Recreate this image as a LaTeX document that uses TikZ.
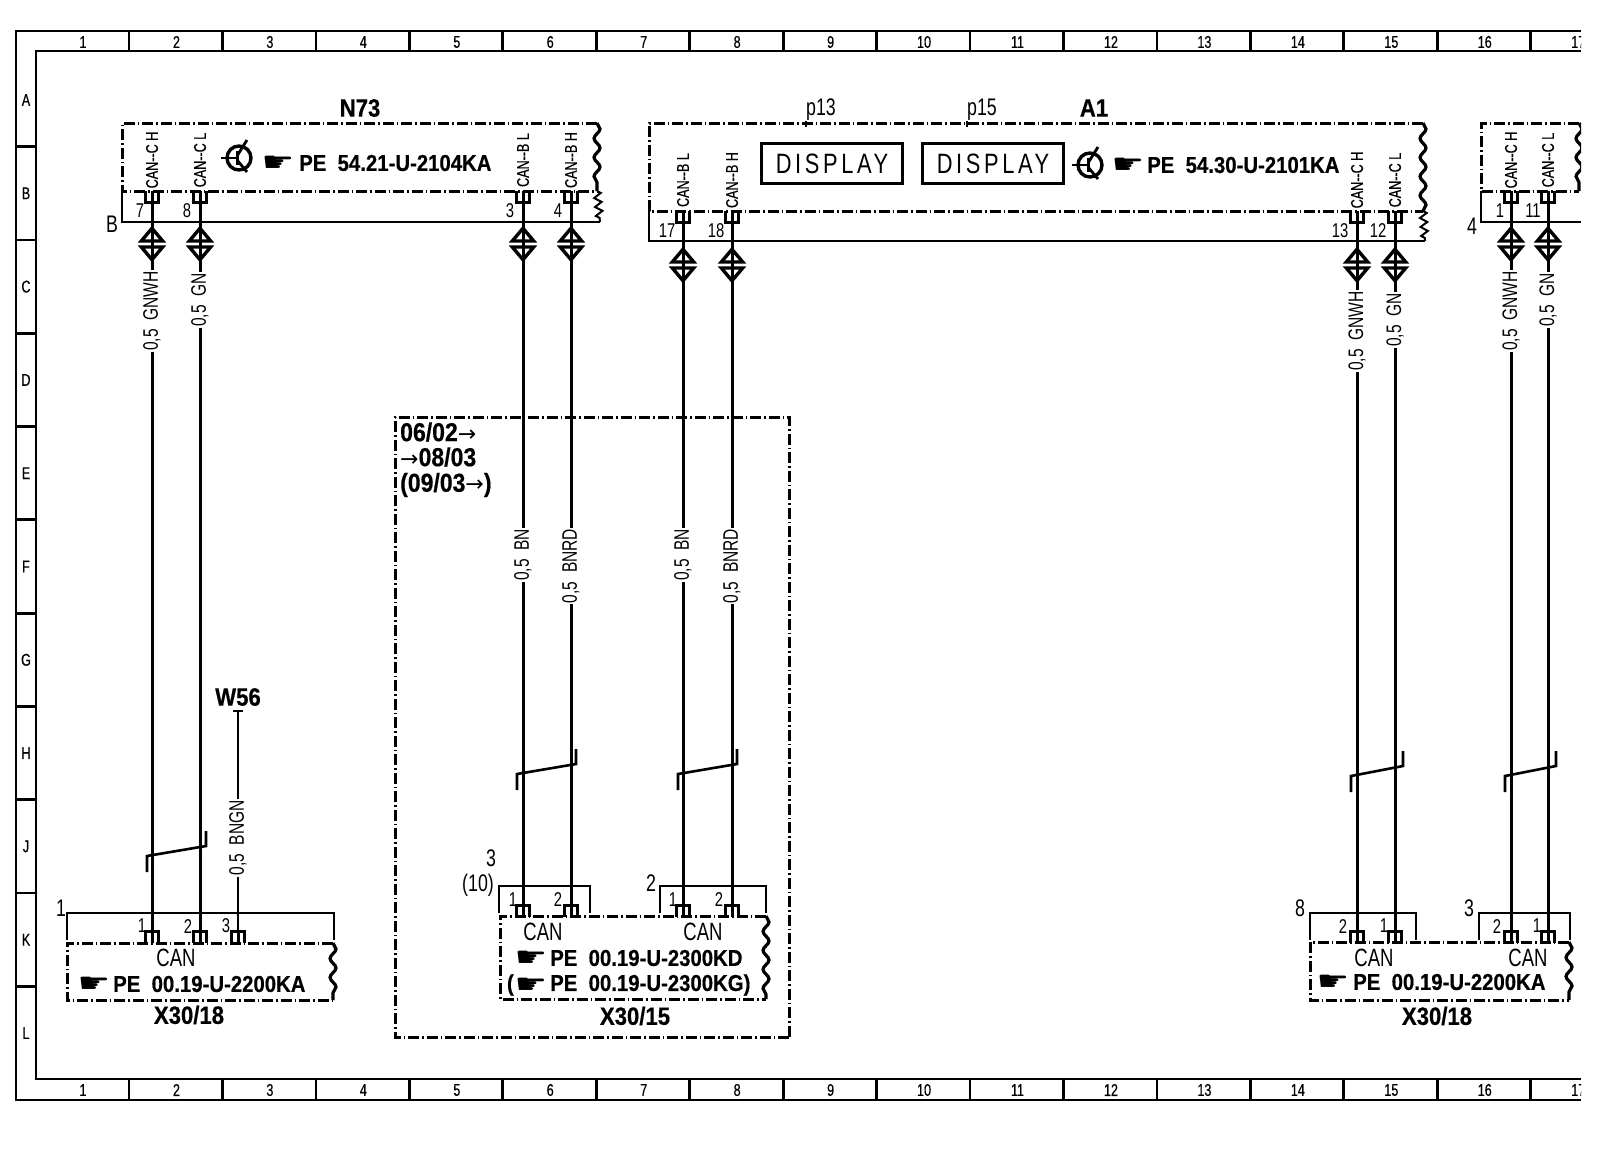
\documentclass[tikz,border=0pt]{standalone}
\usepackage{fontspec}
\usetikzlibrary{shapes.geometric, decorations.pathmorphing}
\setmainfont{Liberation Sans}
\newfontfamily\thinf[FakeStretch=0.74]{Liberation Sans}
\newfontfamily\medf[FakeStretch=0.74, FakeBold=0.6]{Liberation Sans}
\newfontfamily\boldf[FakeStretch=0.885, FakeBold=0.5]{Liberation Sans Bold}
\newfontfamily\symf{DejaVu Sans}
\newfontfamily\segf[FakeStretch=0.78, LetterSpace=13]{Liberation Sans}

\begin{document}
\begin{tikzpicture}[x=1pt, y=-1pt,
		frameline/.style={line width=2.9pt},
		tick/.style={line width=2.8pt},
		dashbox/.style={line width=3pt, dash pattern=on 11pt off 3pt on 1.5pt off 3pt},
		solidbox/.style={line width=2.8pt},
		wavy/.style={line width=3.2pt, decorate, decoration={snake, segment length=19pt, amplitude=3pt}},
		zig/.style={line width=2pt, decorate, decoration={zigzag, segment length=9pt, amplitude=3.5pt}},
		wire/.style={line width=3pt},
		thinwire/.style={line width=1.8pt},
		twist/.style={line width=2.6pt},
		cup/.style={line width=2.8pt},
		plugtri/.style={line width=3.4pt, line join=miter},
		pin/.style={inner sep=0pt, minimum width=12pt, minimum height=11pt},
		plug/.style={diamond, inner sep=0pt, minimum width=21pt, minimum height=31pt},
		grid/.style={font=\medf\fontsize{17}{17}\selectfont, inner sep=0pt},
		pinno/.style={font=\thinf\fontsize{20}{20}\selectfont, inner sep=0pt},
		sigl/.style={font=\medf\fontsize{17}{17}\selectfont, rotate=90, inner sep=0pt},
		wirel/.style={font=\thinf\fontsize{21}{21}\selectfont, rotate=90, inner sep=1pt},
		can/.style={font=\thinf\fontsize{25}{25}\selectfont, inner sep=0pt},
		ref/.style={font=\thinf\fontsize{24}{24}\selectfont, inner sep=0pt},
		pe/.style={font=\boldf\fontsize{23}{23}\selectfont, inner sep=0pt, anchor=west},
		hand/.style={font=\symf\fontsize{27}{27}\selectfont, xscale=1.35, inner sep=0pt},
		title/.style={font=\boldf\fontsize{25}{25}\selectfont, inner sep=0pt},
		datetxt/.style={font=\boldf\fontsize{26}{26}\selectfont, inner sep=0pt, anchor=west},
		segbox/.style={draw, line width=3pt, minimum width=141pt, minimum height=40pt, inner sep=0pt, font=\segf\fontsize{28}{28}\selectfont},
		trans/.style={circle, draw, line width=3.4pt, minimum size=24pt, inner sep=0pt}]

	\path[use as bounding box] (0,0) rectangle (1600,1152);
	\clip (0,0) rectangle (1581,1152);

	% frame
	\draw[frameline] (1581,31) -- (16,31) -- (16,1100) -- (1581,1100);
	\draw[frameline] (1581,51) -- (36,51) -- (36,1079) -- (1581,1079);
	\foreach \k in {1,...,17} {
		\node[grid] (top\k) at ({83+93.45*(\k-1)},42) {\k};
		\node[grid] (bot\k) at ({83+93.45*(\k-1)},1090) {\k};
	}
	\foreach \k in {0,...,15} {
		\draw[tick] ({129+93.45*\k},31) -- ({129+93.45*\k},51);
		\draw[tick] ({129+93.45*\k},1079) -- ({129+93.45*\k},1100);
	}
	\foreach \l [count=\i from 0] in {A,B,C,D,E,F,G,H,J,K,L} {
		\node[grid] (row\l) at (26,{100+93.3*\i}) {\l};
	}
	\foreach \i in {0,...,9} {
		\draw[tick] (16,{146.6+93.3*\i}) -- (36,{146.6+93.3*\i});
	}

	% N73
	\node[title] (N73) at (360,108) {N73};
	\coordinate (N73nw) at (122,123);
	\coordinate (N73se) at (597,191);
	\coordinate (N73b) at (600,222);
	\draw[dashbox] (N73se |- N73nw) -- (N73nw) |- (N73se);
	\draw[wavy] (N73se |- N73nw) -- (N73se);
	\draw[solidbox] (N73nw |- N73se) |- (N73b);
	\draw[zig] (N73se) -- (N73b);
	\node[ref] (N73B) at (112,224) {B};
	\node[pinno] (n7) at (140,211) {7};
	\node[pinno] (n8) at (187,211) {8};
	\node[pinno] (n3) at (510,211) {3};
	\node[pinno] (n4) at (558,211) {4};
	\node[trans] (tr1) at (239,158) {};
	\node[hand] (h1) at (278,164) {☛};
	\node[pe] (pe1) at (299,163) {PE\ \ 54.21-U-2104KA};

	% A1
	\node[title] (A1) at (1094,108) {A1};
	\node[ref] (p13) at (821,110) {p13};
	\node[ref] (p15) at (982,110) {p15};
	\draw[thinwire] (p13.south west) -- ++(0,6);
	\draw[thinwire] (p15.south west) -- ++(0,6);
	\coordinate (A1nw) at (649,123);
	\coordinate (A1se) at (1423,211);
	\coordinate (A1b) at (1425,241);
	\draw[dashbox] (A1se |- A1nw) -- (A1nw) |- (A1se);
	\draw[wavy] (A1se |- A1nw) -- (A1se);
	\draw[solidbox] (A1nw |- A1se) |- (A1b);
	\draw[zig] (A1se) -- (A1b);
	\node[segbox] (disp1) at (832,163.5) {DISPLAY};
	\node[segbox] (disp2) at (993,163.5) {DISPLAY};
	\node[pinno] (a17) at (667,231) {17};
	\node[pinno] (a18) at (716,231) {18};
	\node[pinno] (a13) at (1340,231) {13};
	\node[pinno] (a12) at (1378,231) {12};
	\node[trans] (tr2) at (1090,165) {};
	\node[hand] (h2) at (1128,166) {☛};
	\node[pe] (pe2) at (1147,165) {PE\ \ 54.30-U-2101KA};

	% transistor marks
	\foreach \t in {tr1,tr2} {
		\draw[cup] (\t.center) ++(-18,0) -- ++(16,0);
		\draw[wire] (\t.center) ++(-2,-7) -- ++(0,14);
		\draw[cup] (\t.center) ++(-2,-2) -- ++(10,-16);
		\draw[cup] (\t.center) ++(-2,2) -- ++(10,12);
	}

	% right module
	\coordinate (Mnw) at (1481,123);
	\coordinate (Mse) at (1579,191);
	\coordinate (Mb) at (1581,222);
	\draw[dashbox] (Mse |- Mnw) -- (Mnw) |- (Mse);
	\draw[wavy] (Mse |- Mnw) -- (Mse);
	\draw[solidbox] (Mnw |- Mse) |- (Mb);
	\node[ref] (M4) at (1472,226) {4};
	\node[pinno] (m1) at (1500,211) {1};
	\node[pinno] (m11) at (1533,211) {11};

	% date box
	\coordinate (Dnw) at (395,417);
	\coordinate (Dse) at (789,1037);
	\draw[dashbox] (Dse) -| (Dnw) -| (Dse);
	\node[datetxt] (d1) at (400,432) {06/02{\symf\fontsize{22}{22}\selectfont →}};
	\node[datetxt] (d2) at (400,457) {{\symf\fontsize{22}{22}\selectfont →}08/03};
	\node[datetxt] (d3) at (400,485) {(09/03{\symf\fontsize{22}{22}\selectfont →})};

	% X30/18 left
	\coordinate (Lnw) at (67,943);
	\coordinate (Lse) at (333,1000);
	\draw[solidbox] (Lnw) ++(0,-3) |- (334,913) -- (334,940);
	\draw[dashbox] (Lse |- Lnw) -- (Lnw) |- (Lse);
	\draw[wavy] (Lse |- Lnw) -- (Lse);
	\node[ref] (L1) at (61,908) {1};
	\node[pinno] (l1) at (142,926) {1};
	\node[pinno] (l2) at (188,926) {2};
	\node[pinno] (l3) at (226,926) {3};
	\node[can] (Lcan) at (176,958) {CAN};
	\node[hand] (h3) at (94,985) {☛};
	\node[pe] (pe3) at (113,984) {PE\ \ 00.19-U-2200KA};
	\node[title] (Lname) at (189,1015) {X30/18};

	% X30/15
	\coordinate (Cnw) at (500,916);
	\coordinate (Cse) at (766,999);
	\draw[solidbox] (499,913) |- (590,886) -- (590,913);
	\draw[solidbox] (660,913) |- (766,886) -- (766,913);
	\draw[dashbox] (Cse |- Cnw) -- (Cnw) |- (Cse);
	\draw[wavy] (Cse |- Cnw) -- (Cse);
	\node[ref] (C3) at (491,858) {3};
	\node[ref] (C10) at (478,885) {(10)};
	\node[ref] (C2) at (651,883) {2};
	\node[pinno] (c1) at (513,900) {1};
	\node[pinno] (c2) at (558,900) {2};
	\node[pinno] (c3) at (673,900) {1};
	\node[pinno] (c4) at (719,900) {2};
	\node[can] (Ccan1) at (543,932) {CAN};
	\node[can] (Ccan2) at (703,932) {CAN};
	\node[hand] (h4) at (531,959) {☛};
	\node[pe] (pe4) at (550,958) {PE\ \ 00.19-U-2300KD};
	\node[pe, anchor=east] (par) at (514,985) {(};
	\node[hand] (h5) at (531,986) {☛};
	\node[pe] (pe5) at (550,985) {PE\ \ 00.19-U-2300KG)};
	\node[title] (Cname) at (635,1016) {X30/15};

	% X30/18 right
	\coordinate (Rnw) at (1310,942);
	\coordinate (Rse) at (1569,1000);
	\draw[solidbox] (1310,940) |- (1416,913) -- (1416,940);
	\draw[solidbox] (1479,940) |- (1570,913) -- (1570,940);
	\draw[dashbox] (Rse |- Rnw) -- (Rnw) |- (Rse);
	\draw[wavy] (Rse |- Rnw) -- (Rse);
	\node[ref] (R8) at (1300,908) {8};
	\node[ref] (R3) at (1469,908) {3};
	\node[pinno] (r1) at (1343,926) {2};
	\node[pinno] (r2) at (1384,926) {1};
	\node[pinno] (r3) at (1497,926) {2};
	\node[pinno] (r4) at (1537,926) {1};
	\node[can] (Rcan1) at (1374,958) {CAN};
	\node[can] (Rcan2) at (1528,958) {CAN};
	\node[hand] (h6) at (1333,983) {☛};
	\node[pe] (pe6) at (1353,982) {PE\ \ 00.19-U-2200KA};
	\node[title] (Rname) at (1437,1016) {X30/18};

	% wires: name, x, top pin, signal text, signal y, plug y, wire text, text y, bottom pin
	\foreach \n/\x/\yt/\sig/\ys/\yp/\txt/\yl/\yb in {
		a/152/197/CAN--C H/160/244/{0,5\ \ GNWH}/311/937,
		b/200/197/CAN--C L/160/244/{0,5\ \ GN}/300/937,
		c/523/197/CAN--B L/160/244/{0,5\ \ BN}/555/911,
		d/571/197/CAN--B H/160/244/{0,5\ \ BNRD}/566/911,
		e/683/217/CAN--B L/180/265/{0,5\ \ BN}/555/911,
		f/732/217/CAN--B H/180/265/{0,5\ \ BNRD}/566/911,
		g/1357/217/CAN--C H/180/265/{0,5\ \ GNWH}/331/937,
		h/1395/217/CAN--C L/180/265/{0,5\ \ GN}/320/937,
		i/1511/197/CAN--C H/160/244/{0,5\ \ GNWH}/311/937,
		j/1548/197/CAN--C L/160/244/{0,5\ \ GN}/300/937} {
		\node[pin] (t\n) at (\x,\yt) {};
		\node[sigl] (s\n) at (\x,\ys) {\sig};
		\node[plug] (p\n) at (\x,\yp) {};
		\node[wirel] (w\n) at (\x,\yl) {\txt};
		\node[pin] (u\n) at (\x,\yb) {};
		\draw[cup] (t\n.north west) |- (t\n.south east) -- (t\n.north east);
		\draw[wire] (t\n.north) -- (t\n.south) -- (p\n.north);
		\draw[wire] (p\n.north) -- (p\n.south) -- (w\n.east);
		\draw[wire] (w\n.west) -- (u\n.north);
		\draw[wire] (u\n.north) -- (u\n.south);
		\draw[cup] (u\n.south west) |- (u\n.north east) -- (u\n.south east);
		\draw[plugtri] (p\n.north) -- ([yshift=3pt]p\n.west) -- ([yshift=3pt]p\n.east) -- cycle;
		\draw[plugtri] (p\n.south) -- ([yshift=-3pt]p\n.west) -- ([yshift=-3pt]p\n.east) -- cycle;
	}

	% W56
	\node[title] (W56) at (238,697) {W56};
	\coordinate (W56top) at (238,711);
	\node[wirel] (wk) at (238,838) {0,5\ \ BNGN};
	\node[pin] (uk) at (238,937) {};
	\draw[thinwire] ([xshift=-5pt]W56top) -- ([xshift=5pt]W56top);
	\draw[thinwire] (W56top) -- (wk.east);
	\draw[thinwire] (wk.west) -- (uk.north);
	\draw[wire] (uk.north) -- (uk.south);
	\draw[cup] (uk.south west) |- (uk.north east) -- (uk.south east);

	% twist marks
	\foreach \x/\y/\w in {147/872/59, 517/790/59, 678/790/59, 1351/792/52, 1505/792/51} {
		\draw[twist] (\x,\y) -- ++(0,-16) -- ++(\w,-10) -- ++(0,-15);
	}
\end{tikzpicture}
\end{document}
